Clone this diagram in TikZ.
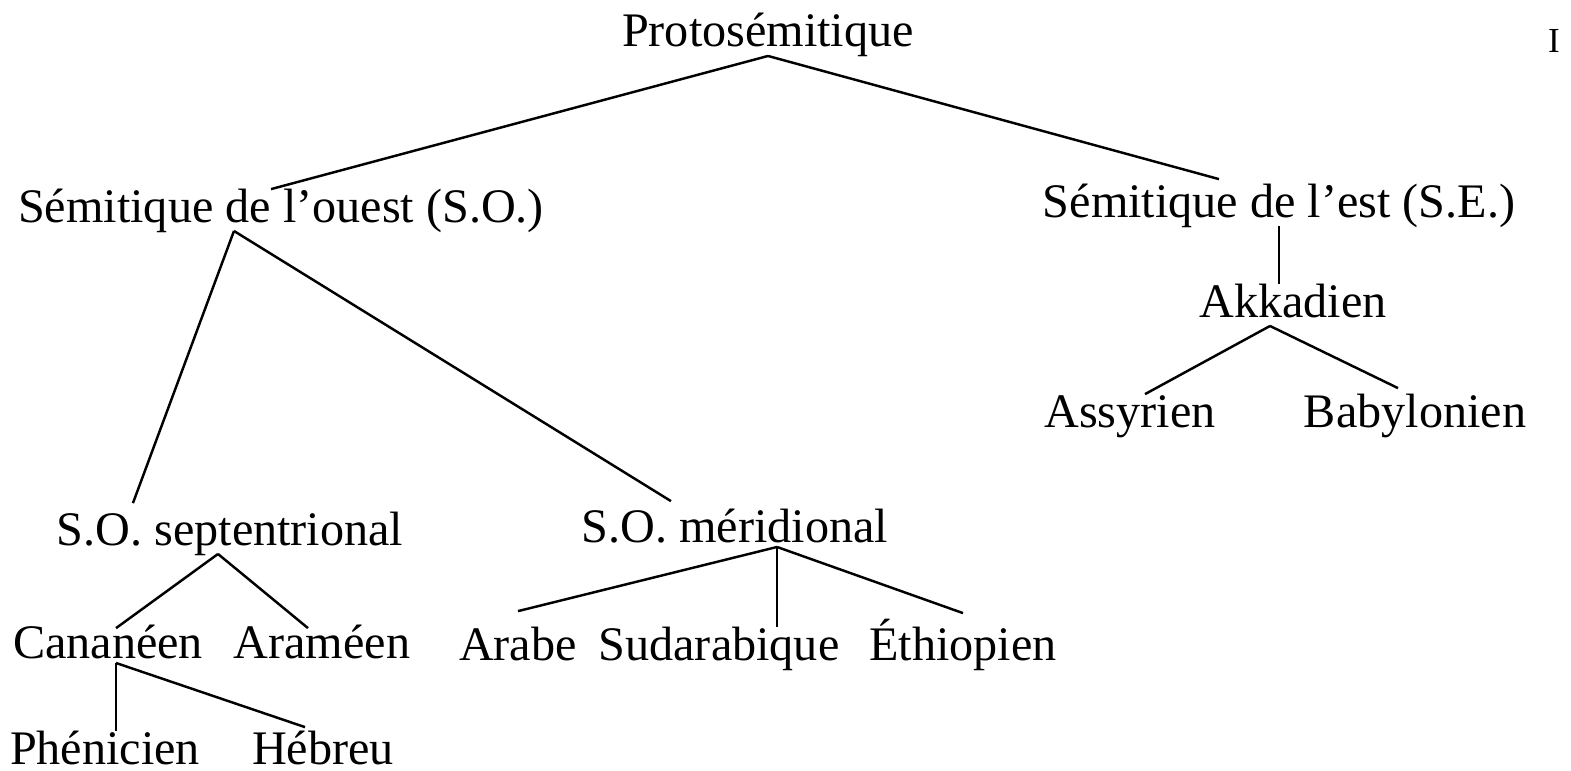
\documentclass[tikz,border=0pt]{standalone}
\usepackage{fontspec}
\setmainfont{Liberation Serif}
\usetikzlibrary{positioning}
\begin{document}
\begin{tikzpicture}[x=0.01cm,y=-0.01cm,line width=0.7pt,every node/.style={font=\fontsize{13.7}{16}\selectfont},lang/.style={anchor=base,inner sep=0pt,text height=0.9em,text depth=0.22em}]
\useasboundingbox (0,0) rectangle (1571,770);
\node[lang] (proto) at (768,47) {Protosémitique};
\node[anchor=base,font=\fontsize{10}{12}\selectfont] (num) at (1554,53) {I};
\node[lang] (ouest) at (281,222) {Sémitique de l'ouest (S.O.)};
\node[lang] (est) at (1279,217) {Sémitique de l'est (S.E.)};
\node[lang] (akk) at (1293,317) {Akkadien};
\node[lang] (assy) at (1130,427) {Assyrien};
\node[lang] (baby) at (1415,427) {Babylonien};
\node[lang] (sept) at (230,545) {S.O. septentrional};
\node[lang] (meri) at (735,542) {S.O. méridional};
\node[lang] (can) at (108,658) {Cananéen};
\node[lang] (ara) at (322,658) {Araméen};
\node[lang] (arabe) at (518,660) {Arabe};
\node[lang] (sud) at (719,660) {Sudarabique};
\node[lang] (eth) at (963,660) {Éthiopien};
\node[lang] (phe) at (105,764) {Phénicien};
\node[lang] (heb) at (323,764) {Hébreu};
% branching points
\coordinate (ouestfork) at ([xshift=-4.7mm]ouest.south);
\coordinate (akkfork) at ([xshift=-2.3mm]akk.south);
\coordinate (septfork) at ([xshift=-1.2mm]sept.south);
\coordinate (merifork) at ([xshift=4.2mm,yshift=0.4mm]meri.south);
\coordinate (canfork) at ([xshift=0.8mm,yshift=0.4mm]can.south);
\draw (proto.south) -- ([xshift=-1mm]ouest.north);
\draw (proto.south) -- ([xshift=-6mm,yshift=0.5mm]est.north);
\draw (ouestfork) -- ([xshift=-9.7mm,yshift=0.9mm]sept.north);
\draw (ouestfork) -- ([xshift=-6.4mm,yshift=0.8mm]meri.north);
\draw (est.south) -- (est.south |- akk.north);
\draw (akkfork) -- ([xshift=1.5mm]assy.north);
\draw (akkfork) -- ([xshift=-1.7mm,yshift=0.6mm]baby.north);
\draw (septfork) -- ([xshift=0.8mm,yshift=-0.3mm]can.north);
\draw (septfork) -- ([xshift=-1.4mm,yshift=-0.3mm]ara.north);
\draw (merifork) -- ([yshift=1.6mm]arabe.north);
\draw (merifork) -- (merifork |- sud.north);
\draw (merifork) -- ([yshift=1.4mm]eth.north);
\draw (canfork) -- (canfork |- phe.north);
\draw (canfork) -- ([xshift=-1.8mm,yshift=0.4mm]heb.north);
\end{tikzpicture}
\end{document}
